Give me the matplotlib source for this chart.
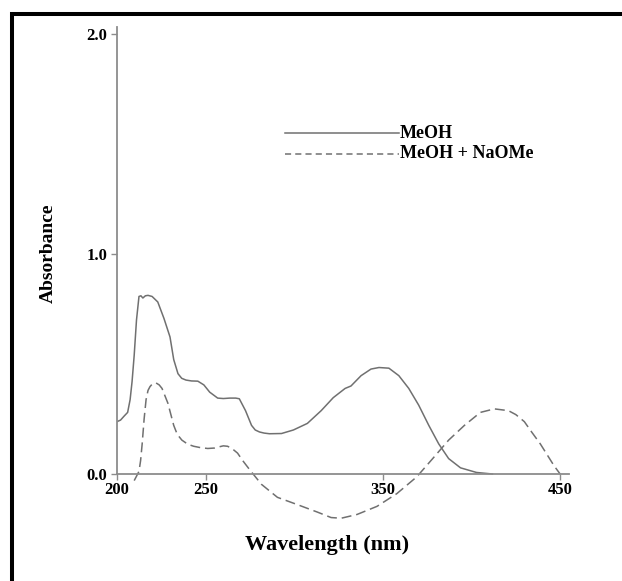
import matplotlib
matplotlib.use("Agg")
import matplotlib.pyplot as plt
from matplotlib.lines import Line2D
from matplotlib.patches import Rectangle

# --- data ---
wl_meoh = [200, 202, 204, 206, 207.4, 208.5, 209.7, 211, 212.4, 213.5, 214.6, 216, 217.5, 219.8,
           223, 226.5, 229.9, 232, 234.4, 236.5, 238.9, 242, 245.6, 249, 252.3, 256.8, 260,
           263.6, 267, 269, 272.5, 275.9, 278, 280.4, 283, 286, 292.8, 299.5, 307.4, 315.2,
           322, 328.7, 332, 337.7, 343.3, 347.8, 353.4, 359, 364.6, 370.2, 375.9, 381.5,
           387.1, 393.8, 402.8, 411.8]
abs_meoh = [0.238, 0.245, 0.263, 0.28, 0.338, 0.42, 0.54, 0.70, 0.807, 0.81, 0.80, 0.81, 0.812,
            0.807, 0.782, 0.707, 0.623, 0.52, 0.456, 0.435, 0.427, 0.423, 0.422, 0.405, 0.372,
            0.345, 0.343, 0.345, 0.345, 0.342, 0.288, 0.221, 0.2, 0.191, 0.186, 0.183, 0.184,
            0.2, 0.23, 0.288, 0.347, 0.389, 0.40, 0.447, 0.477, 0.484, 0.481, 0.447, 0.389,
            0.313, 0.221, 0.137, 0.07, 0.028, 0.007, 0.0]

wl_naome = [209.7, 211, 212.4, 213.3, 214.2, 215.3, 216.4, 217.5, 218.6, 220, 222, 223.8, 225.4,
            228.7, 232, 234, 236.6, 240, 243.3, 247, 251.2, 255, 257.9, 260, 262.4, 265,
            268, 271, 274.8, 281.5, 290.5, 301.7, 313, 320.8, 326.5, 335.4, 346.7, 357.9,
            369.1, 378.1, 387.1, 396, 405, 412.9, 420.8, 425, 429.8, 434, 438.8, 446.6, 450]
abs_naome = [-0.03, -0.01, 0.012, 0.06, 0.137, 0.25, 0.338, 0.38, 0.397, 0.41, 0.414, 0.405,
             0.389, 0.322, 0.221, 0.18, 0.154, 0.135, 0.126, 0.12, 0.116, 0.118, 0.124, 0.128,
             0.126, 0.115, 0.095, 0.06, 0.02, -0.047, -0.106, -0.139, -0.173, -0.198, -0.201,
             -0.184, -0.147, -0.089, -0.013, 0.07, 0.154, 0.221, 0.28, 0.296, 0.288, 0.27,
             0.238, 0.19, 0.137, 0.037, 0.0]

x_ticks = [200, 250, 350, 450]
x_tick_labels = ["200", "250", "350", "450"]
y_ticks = [0.0, 1.0, 2.0]
y_tick_labels = ["0.0", "1.0", "2.0"]
series_names = ["MeOH", "MeOH + NaOMe"]

W, H = 622, 581
fig = plt.figure(figsize=(W / 100, H / 100), dpi=100)
fig.patch.set_facecolor("white")

serif = ["Liberation Serif", "DejaVu Serif"]
curve_col = "#707070"
axis_col = "#8c8c8c"

ax = fig.add_axes([117 / W, 1 - 529 / H, (569 - 117) / W, (529 - 27.4) / H])
ax.set_xlim(200, 455)
ax.set_ylim(-0.25, 2.03)
ax.patch.set_alpha(0)

ax.plot(wl_meoh, abs_meoh, color=curve_col, lw=1.1, solid_joinstyle="round")
ax.plot(wl_naome, abs_naome, color=curve_col, lw=1.1, dashes=(6.5, 3.2))

for s in ["top", "right"]:
    ax.spines[s].set_visible(False)
ax.spines["bottom"].set_position(("data", 0))
ax.spines["left"].set_bounds(0, 2.03)
for s in ["bottom", "left"]:
    ax.spines[s].set_color(axis_col)
    ax.spines[s].set_linewidth(1.3)

ax.set_xticks(x_ticks)
ax.set_xticklabels(x_tick_labels)
ax.set_yticks(y_ticks)
ax.set_yticklabels(y_tick_labels)
ax.tick_params(axis="both", colors=axis_col, length=4, width=1.0, labelcolor="black")
ax.tick_params(axis="x", pad=2)
ax.tick_params(axis="y", pad=3)
for lab in ax.get_xticklabels() + ax.get_yticklabels():
    lab.set_fontfamily(serif)
    lab.set_fontweight("bold")
    lab.set_fontsize(12)

fig.text(48 / W, 1 - 253 / H, "Absorbance", rotation=90, ha="center", va="center",
         fontsize=14, fontweight="bold", family=serif)
fig.text(327 / W, 1 - 545 / H, "Wavelength (nm)", ha="center", va="center",
         fontsize=16, fontweight="bold", family=serif)

# legend drawn manually to mimic the reference
for yy, name, style in [(133, series_names[0], "-"), (154, series_names[1], "--")]:
    ln = Line2D([285 / W, 399 / W], [1 - yy / H, 1 - yy / H], transform=fig.transFigure,
                color=curve_col, lw=1.1)
    if style == "--":
        ln.set_dashes((4, 2.7))
    fig.add_artist(ln)
    fig.text(400 / W, 1 - yy / H, name, ha="left", va="center", fontsize=13,
             fontweight="bold", family=serif)

# outer frame (right and bottom edges run off the canvas)
fig.add_artist(Rectangle((11.5 / W, -0.1), 1.2, 1 - 13.7 / H + 0.1, transform=fig.transFigure,
                         fill=False, edgecolor="black", lw=2.9))

fig.savefig("out.png", dpi=100)
